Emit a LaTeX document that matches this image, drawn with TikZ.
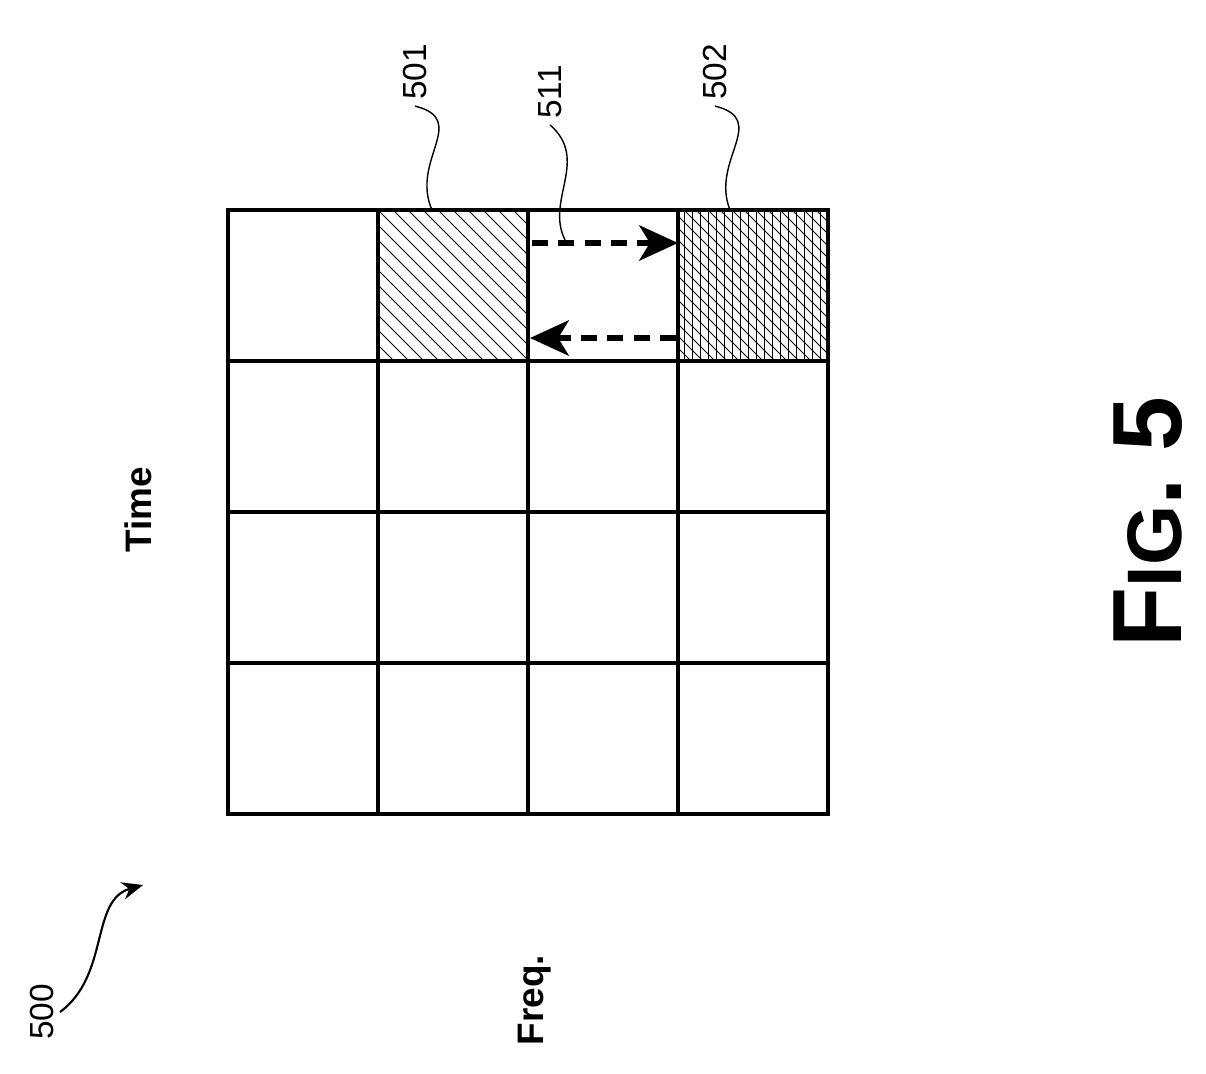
\documentclass[tikz,border=0pt]{standalone}
\usepackage{fontspec}
\setmainfont{Liberation Sans}
\usetikzlibrary{arrows.meta}
\begin{document}
\begin{tikzpicture}[x=0.02cm,y=-0.02cm]
\tikzset{
  cell/.style={draw=black,line width=2pt},
  hatch/.style={black,line width=0.5pt},
  lbl/.style={font=\fontsize{19}{19}\selectfont,rotate=90},
  axis/.style={font=\bfseries\fontsize{21}{21}\selectfont,rotate=90},
  leader/.style={black,line width=0.8pt},
  hop/.style={black,line width=3.5pt,dash pattern=on 9pt off 6pt,-{Stealth[length=22pt,width=20pt,inset=6pt]}}
}
\useasboundingbox (0,0) rectangle (1206,1073);

% hatched cells
\begin{scope}
\clip (378,210) rectangle (528,360);
\foreach \k in {-150,-135,...,150}{
  \draw[hatch] (378+\k,210) -- (528+\k,360);
}
\end{scope}
\begin{scope}
\clip (678,210) rectangle (828,360);
\foreach \k in {-150,-138,...,150}{
  \draw[hatch] (678+\k,210) -- (828+\k,360);
}
\foreach \k in {684,692,...,828}{
  \draw[hatch] (\k,210) -- (\k,360);
}
\end{scope}

% grid
\foreach \i in {0,...,3}{
  \foreach \j in {0,...,3}{
    \draw[cell] (228+150*\i,210+151*\j) rectangle (378+150*\i,361+151*\j);
  }
}

% hops
\coordinate (h1s) at (532,243);
\coordinate (h1e) at (678,243);
\coordinate (h2s) at (676,338);
\coordinate (h2e) at (530,338);
\draw[hop] (h1s) -- (h1e);
\draw[hop] (h2s) -- (h2e);

% labels
\node[axis] (time) at (138,510) {Time};
\node[axis] (freq) at (535,1000) {Freq.};
\node[lbl] (n500) at (42,1012) {500};
\node[lbl] (n501) at (415,72) {501};
\node[lbl] (n511) at (550,92) {511};
\node[lbl] (n502) at (715,72) {502};
\node[font=\bfseries\fontsize{56}{56}\selectfont,rotate=90] (fig) at (1148,522) {F{\fontsize{44}{44}\selectfont IG}. 5};

% leaders
\coordinate (t501) at (432,210);
\coordinate (t511) at (565,240);
\coordinate (t502) at (730,210);
\draw[leader] (n501.west) .. controls (470,120) and (410,160) .. (t501);
\draw[leader] (n511.west) .. controls (590,160) and (545,200) .. (t511);
\draw[leader] (n502.west) .. controls (770,120) and (710,160) .. (t502);
\coordinate (a500) at (143,885);
\draw[leader,line width=1.2pt,-{Stealth[length=12pt,width=10pt]}] (n500.south) .. controls (110,975) and (90,900) .. (a500);
\end{tikzpicture}
\end{document}
